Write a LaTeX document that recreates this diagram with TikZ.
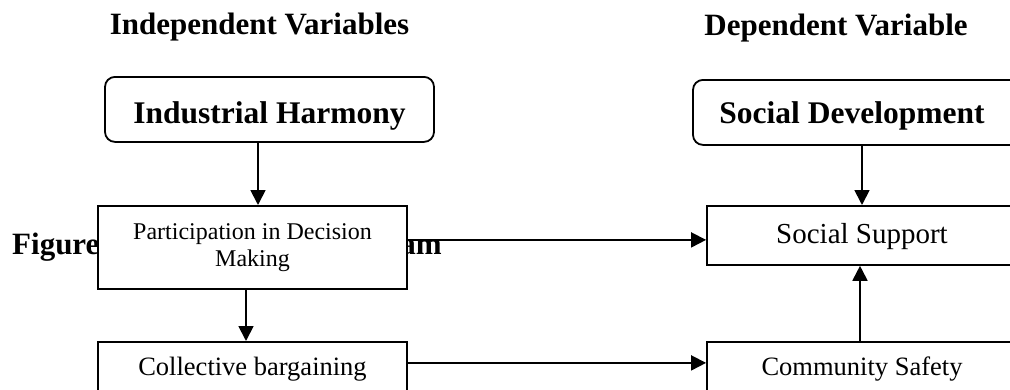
\documentclass[tikz,border=0pt]{standalone}
\usepackage{fontspec}
\setmainfont{Liberation Serif}
\usetikzlibrary{arrows.meta}
\tikzset{
  box/.style={draw=black, line width=1.8pt, fill=white, inner xsep=0pt, inner ysep=0pt, align=center},
  rbox/.style={box, rounded corners=10pt},
  arr/.style={line width=1.8pt, -{Triangle[length=15pt,width=15pt]}},
  hdr/.style={font=\fontsize{31}{37}\selectfont\bfseries, inner sep=0pt, anchor=base},
  fig/.style={font=\fontsize{31}{37}\selectfont\bfseries, inner sep=0pt},
}
\begin{document}
\begin{tikzpicture}[x=1pt,y=-1pt]
\useasboundingbox (0,0) rectangle (1010,389);
\clip (0,0) rectangle (1010,389);
% headers
\node[hdr] (hind) at (259.5,34) {Independent Variables};
\node[hdr] (hdep) at (836,35) {Dependent Variable};
% partially hidden caption
\node[fig, anchor=base west] (figa) at (12,254) {Figure};
\node[fig, anchor=base east] (figb) at (442,254) {am};
% top boxes
\node[rbox, minimum width=329pt, text height=47pt, text depth=18pt, anchor=north,
      font=\fontsize{31.5}{37}\selectfont\bfseries] (IH) at (269.5,76) {Industrial Harmony};
\node[rbox, minimum width=327pt, text height=44pt, text depth=21pt, anchor=north,
      font=\fontsize{31.5}{37}\selectfont\bfseries] (SD) at (856.5,79) {\hspace*{-9pt}Social Development};
% middle boxes
\node[box, minimum width=309pt, minimum height=83pt, anchor=north,
      font=\fontsize{24}{27}\selectfont] (P) at (252.5,205) {Participation in Decision\\Making};
\node[box, minimum width=310pt, text height=38pt, text depth=21pt, anchor=north,
      font=\fontsize{29}{34}\selectfont] (SS) at (862,205) {Social Support};
% bottom boxes
\node[box, minimum width=309pt, text height=34pt, text depth=30pt, anchor=north,
      font=\fontsize{26.5}{31}\selectfont] (C) at (252.5,341) {Collective bargaining};
\node[box, minimum width=310pt, text height=34pt, text depth=30pt, anchor=north,
      font=\fontsize{26.5}{31}\selectfont] (CS) at (862,341) {Community Safety};
% connectors
\draw[arr] ([xshift=-11.5pt]IH.south) -- ([xshift=-11.5pt]IH.south |- P.north);
\draw[arr] ([xshift=-6.5pt]P.south) -- ([xshift=-6.5pt]P.south |- C.north);
\draw[arr] ([yshift=7.5pt]P.east) -- ([yshift=7.5pt]P.east -| SS.west);
\draw[arr] ([yshift=11pt]C.east) -- ([yshift=11pt]C.east -| CS.west);
\draw[arr] ([xshift=-2pt]CS.north) -- ([xshift=-2pt]CS.north |- SS.south);
\draw[arr] ([xshift=5.5pt]SD.south) -- ([xshift=5.5pt]SD.south |- SS.north);
\end{tikzpicture}
\end{document}
